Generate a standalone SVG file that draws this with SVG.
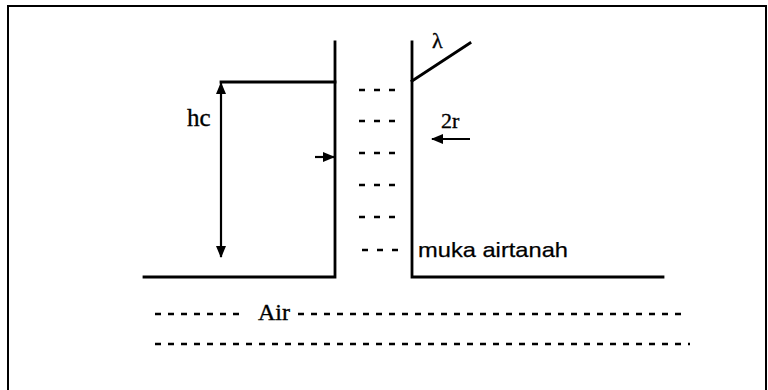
<svg xmlns="http://www.w3.org/2000/svg" width="768" height="390" viewBox="0 0 768 390">
<defs>
<style>
.ln{stroke:#000;stroke-width:2.8;fill:none;stroke-linecap:square}
.ar{stroke:#000;stroke-width:2.2;fill:none}
.ds{stroke:#000;stroke-width:2.5;fill:none;stroke-dasharray:6 9}
.dl{stroke:#000;stroke-width:2.5;fill:none;stroke-dasharray:6 7}
.serif{font-family:"Liberation Serif","Times New Roman",serif;fill:#000;stroke:#000;stroke-width:0.35}
.sans{font-family:"Liberation Sans",Arial,sans-serif;fill:#000;stroke:#000;stroke-width:0.25}
</style>
<marker id="ah" viewBox="0 0 12 10" refX="11" refY="5" markerWidth="12" markerHeight="10" markerUnits="userSpaceOnUse" orient="auto-start-reverse">
<path d="M0,0 L12,5 L0,10 z" fill="#000"/>
</marker>
</defs>
<rect width="768" height="390" fill="#fff"/>
<path d="M8,392 V6 H766 V392" stroke="#000" stroke-width="2" fill="none"/>
<g id="tube-left">
<path class="ln" d="M335,42 V277 H144"/>
<path class="ln" d="M221,82 H335"/>
</g>
<g id="tube-right">
<path class="ln" d="M412,42 V277 H663"/>
<path class="ln" d="M412,81 L470,43"/>
<text class="serif" x="432" y="48" font-size="22">λ</text>
</g>
<g id="water-column">
<path class="ds" d="M359,90 H396"/>
<path class="ds" d="M359,121 H396"/>
<path class="ds" d="M359,153 H396"/>
<path class="ds" d="M359,185 H396"/>
<path class="ds" d="M359,217 H396"/>
<path class="ds" d="M362,250 H399"/>
</g>
<g id="label-muka">
<text class="sans" x="418" y="257" font-size="21" textLength="150" lengthAdjust="spacingAndGlyphs">muka airtanah</text>
</g>
<g id="label-hc">
<text class="serif" x="187" y="126" font-size="25">hc</text>
</g>
<g id="label-2r">
<text class="serif" x="441" y="128" font-size="22">2r</text>
</g>
<g id="air">
<path class="dl" d="M155,314 H243"/>
<text class="serif" x="258" y="320" font-size="24">Air</text>
<path class="dl" d="M298,314 H683"/>
<path class="dl" d="M155,344 H690"/>
</g>
<g id="connectors">
<path class="ar" d="M221,83 V257" marker-start="url(#ah)" marker-end="url(#ah)"/>
<path class="ar" d="M315,157 H334" marker-end="url(#ah)"/>
<path class="ar" d="M470,139 H432" marker-end="url(#ah)"/>
</g>
</svg>
